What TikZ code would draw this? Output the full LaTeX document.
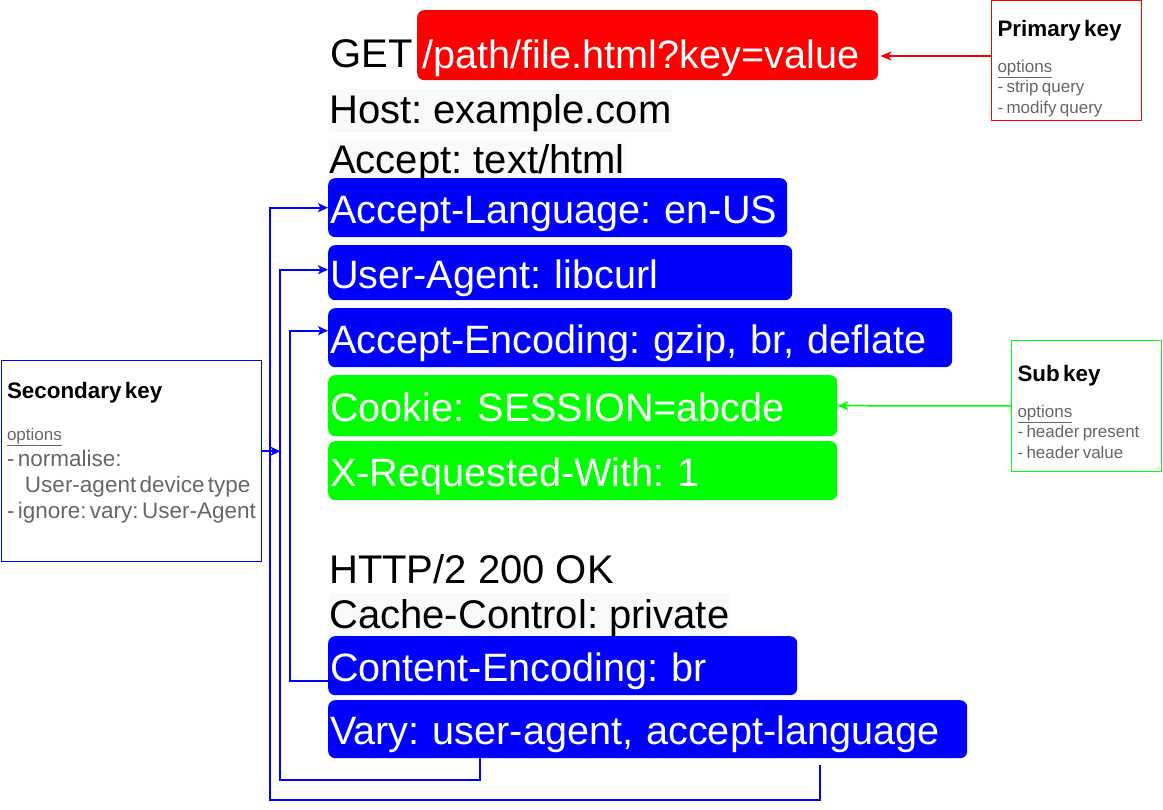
\documentclass[tikz,border=0pt]{standalone}
\usepackage{fontspec}
\setmainfont{Liberation Sans}
\usetikzlibrary{arrows.meta}
\frenchspacing
\definecolor{hdrblue}{HTML}{0000FF}
\definecolor{hdrgreen}{HTML}{00FF00}
\definecolor{hdrred}{HTML}{FF0000}
\definecolor{hdrbg}{HTML}{F8F9FA}
\definecolor{optgray}{HTML}{666666}
\newcommand\hdrfont{\fontsize{40}{45}\selectfont}
\newcommand\boxfont{\fontsize{39.6}{45}\selectfont}
\newcommand\keytitle{\fontsize{22.4}{26}\selectfont\bfseries}
\newcommand\keyopt{\fontsize{17}{20.5}\selectfont\color{optgray}}
\newcommand\keylist{\fontsize{22.5}{26}\selectfont\color{optgray}}
\tikzset{txtline/.style={anchor=base west, inner sep=0pt, font=\hdrfont, text height=35pt, text depth=8pt},
  hdr/.style={anchor=north west, rounded corners=7pt, text=white, font=\boxfont, inner xsep=2pt, inner ysep=0pt, text height=38pt, text depth=7pt},
  keybox/.style={anchor=north west, inner sep=0pt, line width=1pt},
  keyarrow/.style={line width=1.5pt, -{Stealth[length=11pt, width=9pt, inset=3pt]}},
  link/.style={draw=hdrblue, line width=2pt, -{Stealth[length=10pt, width=9pt, inset=2.5pt]}}}

\begin{document}
\begin{tikzpicture}[x=1pt, y=-1pt]
  \useasboundingbox (0,0) rectangle (1163,810);
  % request
  \node [txtline] (get) at (330,68) {GET};
  \node [hdr, fill=hdrred, inner xsep=5pt, text width=451pt, minimum height=70, text height=50pt, text depth=4pt] (path) at (417,10) {/path/file.html?key=value};
  \node [txtline, fill=hdrbg] (host) at (329,124) {Host: example.com};
  \node [txtline, fill=hdrbg] (accept) at (329,174) {Accept: text/html};
  % response
  \node [txtline] (status) at (329,583) {HTTP/2 200 OK};
  \node [txtline, fill=hdrbg] (cachectl) at (329,628) {Cache-Control: private};
  % headers that take part in the key
  \foreach \name/\y/\w/\h/\col/\txt in {acclang/178/459/59/hdrblue/{Accept-Language: en-US},
      useragent/245/464/55/hdrblue/{User-Agent: libcurl},
      accenc/308/624/59/hdrblue/{Accept-Encoding: gzip, br, deflate},
      cookie/375/509/61/hdrgreen/{Cookie: SESSION=abcde},
      xreq/441/509/59/hdrgreen/{X-Requested-With: 1},
      contenc/636/469/59/hdrblue/{Content-Encoding: br},
      vary/700/639/58/hdrblue/{Vary: user-agent, accept-language}} {
    \pgfmathsetmacro{\tw}{\w-4}
    \node [hdr, fill=\col, text width=\tw pt, minimum height=\h] (\name) at (328,\y) {\txt};
  }
  % key boxes
  \node [keybox, draw=hdrred, text width=150pt] (pkey) at (991,0.5) {\leftskip=6pt\rightskip=-20pt plus 1fil
    {\keytitle\rule{0pt}{35.5pt}Primary key\par}\vspace{15.5pt}
    {\keyopt\underline{options}\\- strip query\\- modify query\rule[-7.5pt]{0pt}{0pt}\par}};
  \node [keybox, draw=hdrgreen, text width=150pt] (skey) at (1011,340.5) {\leftskip=6pt\rightskip=-20pt plus 1fil
    {\keytitle\rule{0pt}{40.5pt}Sub key\par}\vspace{15.5pt}
    {\keyopt\underline{options}\\- header present\\- header value\rule[-12.5pt]{0pt}{0pt}\par}};
  \node [keybox, draw=hdrblue, text width=260pt] (seckey) at (0.5,360.5) {\leftskip=6pt\rightskip=-20pt plus 1fil
    {\keytitle\rule{0pt}{37.5pt}Secondary key\par}\vspace{21.5pt}
    {\keyopt\underline{options}\par}
    {\keylist - normalise:\\\hspace*{18pt}User-agent device type\\- ignore: vary: User-Agent\rule[-43pt]{0pt}{0pt}\par}};
  % arrows
  \draw [keyarrow, draw=hdrred, shorten >=2pt] ([yshift=5pt]pkey.west) -- ([yshift=5pt]pkey.west -| path.east);
  \draw [keyarrow, draw=hdrgreen] (skey.west) -- (cookie.east);
  \coordinate (vtap1) at (820,765);
  \coordinate (vtap2) at (480,758);
  \draw [link] (vtap1) -- ++(0,35) -| ([xshift=-58pt]acclang.west) -- (acclang.west);
  \draw [link] (vtap2) -- ++(0,22) -| ([xshift=-48pt,yshift=3pt]useragent.west) -- ([yshift=3pt]useragent.west);
  \draw [link] ([yshift=-15pt]contenc.west) -- ++(-38,0) |- ([yshift=7pt]accenc.west);
  \draw [link] ([yshift=10pt]seckey.east) -- ++(19,0);
\end{tikzpicture}
\end{document}
